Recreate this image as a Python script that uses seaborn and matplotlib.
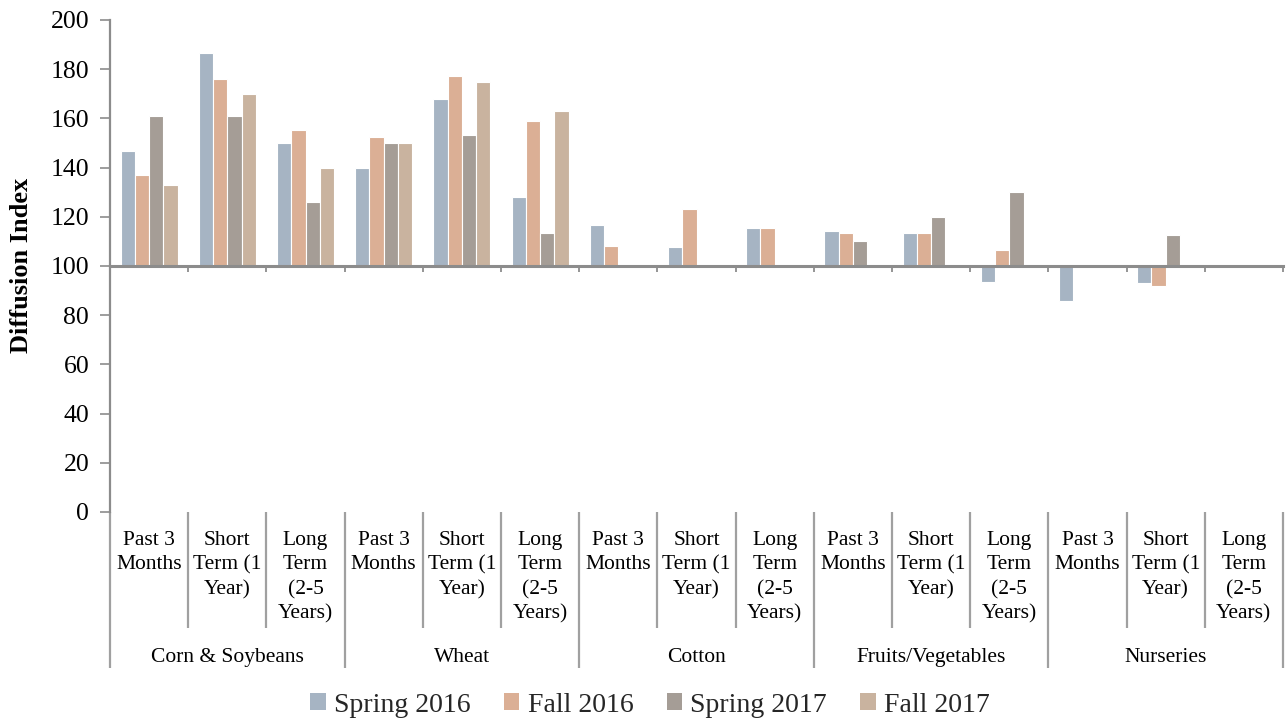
import numpy as np
import pandas as pd
import matplotlib
matplotlib.use("Agg")
import matplotlib.pyplot as plt
import seaborn as sns
from matplotlib.patches import Patch

# ---------------- data ----------------
groups = ["Corn & Soybeans", "Wheat", "Cotton", "Fruits/Vegetables", "Nurseries"]
horizons = ["Past 3\nMonths", "Short\nTerm (1\nYear)", "Long\nTerm\n(2-5\nYears)"]
seasons = ["Spring 2016", "Fall 2016", "Spring 2017", "Fall 2017"]
nan = np.nan

spring_2016 = [146.7, 186.7, 150.0, 140.0, 168.0, 128.0, 116.7, 107.7, 115.4, 114.3, 113.3, 93.3, 85.7, 92.9, nan]
fall_2016 = [137.0, 176.0, 155.2, 152.4, 177.3, 159.1, 108.3, 123.1, 115.4, 113.3, 113.3, 106.7, nan, 91.7, nan]
spring_2017 = [161.0, 161.0, 126.0, 150.0, 153.3, 113.3, nan, nan, nan, 110.0, 120.0, 130.0, nan, 112.5, nan]
fall_2017 = [133.0, 170.0, 140.0, 150.0, 175.0, 163.2, nan, nan, nan, nan, nan, nan, nan, nan, nan]

baseline = 100
yticks = list(range(0, 201, 20))

colors = ["#A6B4C3", "#DBAF95", "#A59D96", "#C9B39F"]
axis_grey = "#8C8C8C"

# ---------------- long-form table ----------------
keys = [f"{g}|{h}" for g in groups for h in horizons]
series = dict(zip(seasons, [spring_2016, fall_2016, spring_2017, fall_2017]))
rows = []
for s, vals in series.items():
    for k, v in zip(keys, vals):
        rows.append({"key": k, "season": s, "value": v})
df = pd.DataFrame(rows).dropna()
df["delta"] = df["value"] - baseline

# ---------------- plotting ----------------
sns.set_theme(style="white")
plt.rcParams["font.family"] = ["Liberation Serif", "DejaVu Serif"]

W, H = 1287, 721
fig = plt.figure(figsize=(W / 100, H / 100), dpi=100)
ax_l, ax_r, ax_t, ax_b = 110, 1283, 20, 512
ax = fig.add_axes([ax_l / W, (H - ax_b) / H, (ax_r - ax_l) / W, (ax_b - ax_t) / H])

sns.barplot(data=df, x="key", y="delta", hue="season", order=keys, hue_order=seasons,
            palette=colors, saturation=1, width=0.73, errorbar=None,
            bottom=baseline, edgecolor="white", linewidth=0.8, legend=False, ax=ax)

ax.set_xlim(-0.5, len(keys) - 0.5)
ax.set_ylim(0, 200)
ax.set_yticks(yticks)
ax.set_yticklabels([str(t) for t in yticks])
ax.set_xlabel("")
ax.set_ylabel("Diffusion Index", fontsize=19, fontweight="bold", color="black")
ax.yaxis.set_label_coords(-(ax_l - 33) / (ax_r - ax_l), (ax_b - 265) / (ax_b - ax_t))

for side in ["top", "right"]:
    ax.spines[side].set_visible(False)
ax.spines["left"].set_color(axis_grey)
ax.spines["left"].set_linewidth(1.6)
ax.spines["bottom"].set_position(("data", baseline))
ax.spines["bottom"].set_color(axis_grey)
ax.spines["bottom"].set_linewidth(2.2)
ax.spines["bottom"].set_zorder(5)

boundaries = np.arange(-0.5, len(keys), 1.0)
ax.set_xticks(boundaries)
ax.set_xticklabels([])
ax.tick_params(axis="x", direction="out", length=4.5, width=1.3, color=axis_grey, bottom=True)
ax.tick_params(axis="y", direction="out", length=7, width=1.2, color=axis_grey,
               labelsize=18.5, pad=8, left=True, labelcolor="black")
ax.grid(False)

# ---------------- category table below the plot ----------------
trans = ax.get_xaxis_transform()
ph = ax_b - ax_t
sub_bottom = -(628 - ax_b) / ph
grp_bottom = -(668 - ax_b) / ph
for i, b in enumerate(boundaries):
    bottom = grp_bottom if i % 3 == 0 else sub_bottom
    ax.plot([b, b], [0, bottom], transform=trans, color="#A0A0A0", lw=1.6,
            clip_on=False, solid_capstyle="butt")

sub_top = -(531 - ax_b) / ph
for i, k in enumerate(keys):
    h = horizons[i % 3]
    ax.text(i, sub_top, h, transform=trans, ha="center", va="top", fontsize=15.5,
            linespacing=1.38, color="black", clip_on=False)

grp_base = -(662 - ax_b) / ph
for gi, g in enumerate(groups):
    ax.text(gi * 3 + 1, grp_base, g, transform=trans, ha="center", va="baseline",
            fontsize=15.5, color="black", clip_on=False)

# ---------------- legend ----------------
handles = [Patch(facecolor=c, edgecolor="none", label=s) for c, s in zip(colors, seasons)]
fig.legend(handles=handles, loc="center", bbox_to_anchor=(650 / W, 1 - 705 / H), ncol=4,
           frameon=False, fontsize=20, handlelength=0.55, handleheight=0.55,
           handletextpad=0.3, columnspacing=1.2, borderaxespad=0, borderpad=0)

fig.savefig("out.png", dpi=100)
